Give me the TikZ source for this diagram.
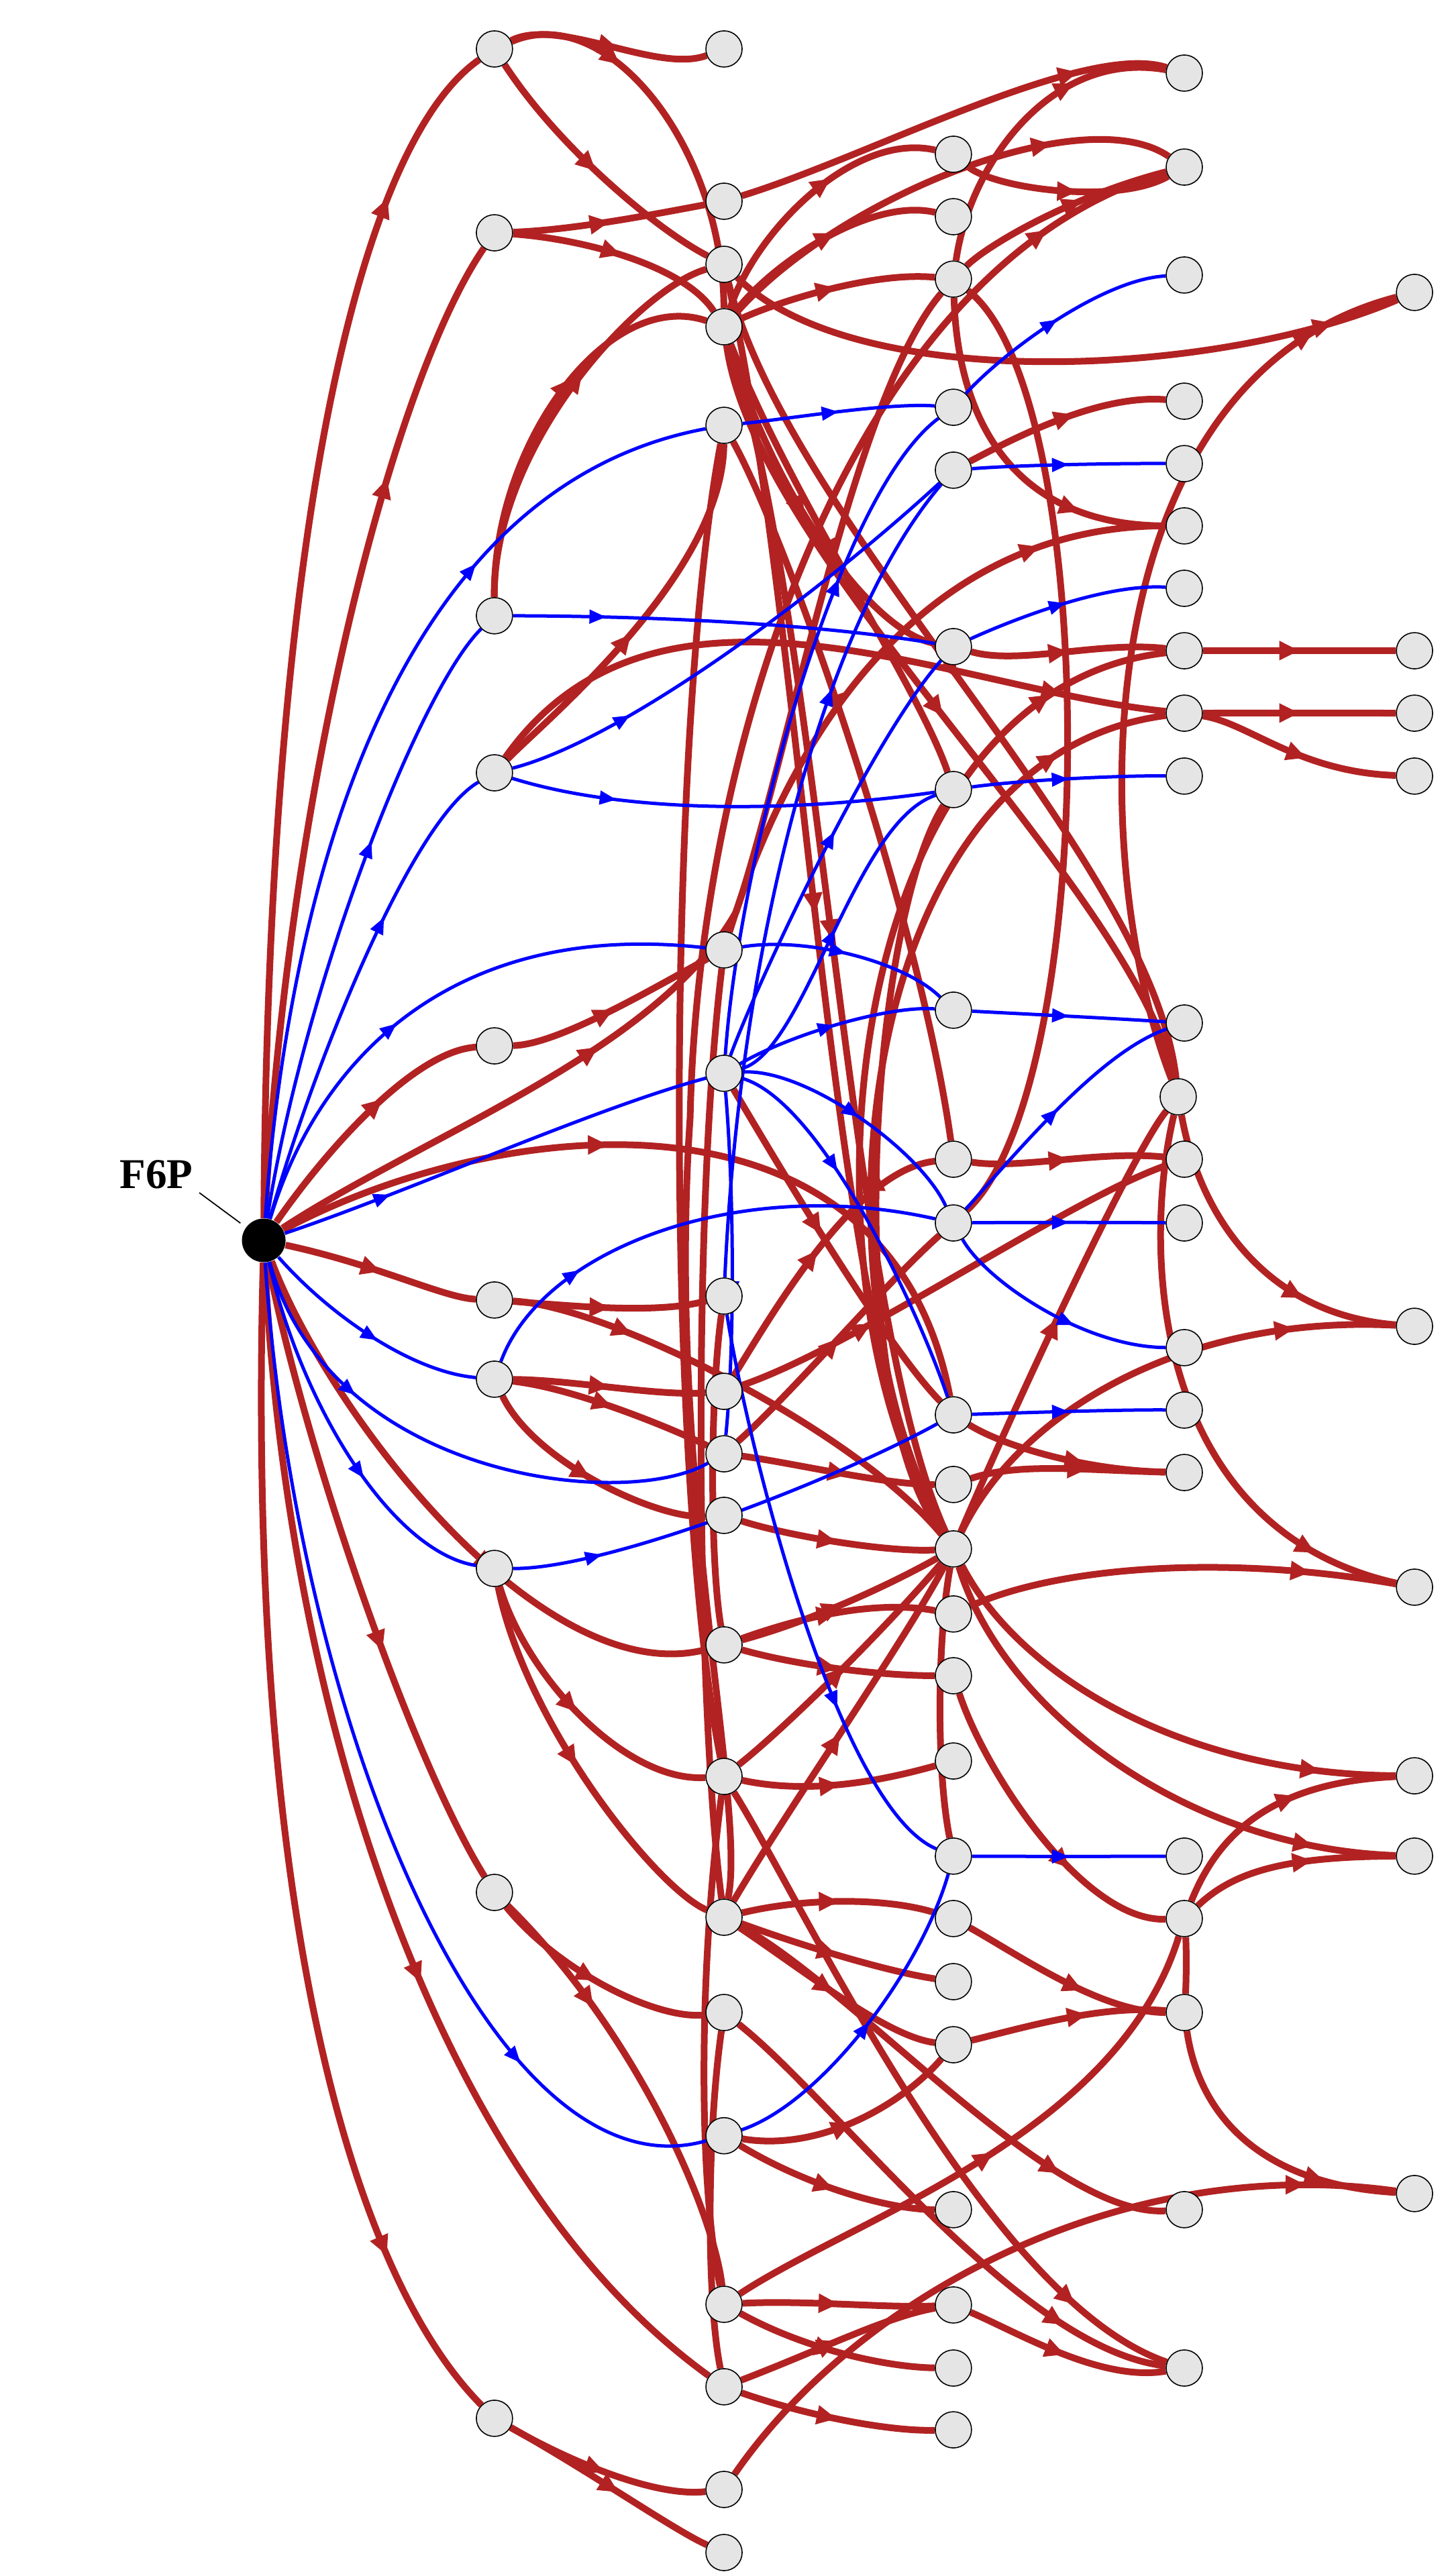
\documentclass[tikz,border=0pt]{standalone}
\usepackage{fontspec}
\setmainfont{Liberation Serif}
\usetikzlibrary{arrows.meta,decorations.markings}
\definecolor{er}{HTML}{B22222}
\definecolor{eb}{HTML}{0000FF}
\definecolor{nf}{HTML}{E5E5E5}
\pgfdeclarelayer{edges}
\pgfsetlayers{edges,main}
\tikzset{
 vtx/.style={circle,draw=black,fill=nf,line width=0.45pt,minimum size=0.54cm,inner sep=0pt},
 srcnode/.style={circle,fill=black,minimum size=0.65cm,inner sep=0pt},
 redge/.style={color=er,line width=0.1cm},
 bedge/.style={color=eb,line width=0.05cm},
 ma/.style={postaction={decorate,decoration={markings,mark=at position #1 with {\arrow{Triangle[length=0.3cm,width=0.27cm]}}}}},
 mab/.style={postaction={decorate,decoration={markings,mark=at position #1 with {\arrow{Triangle[length=0.25cm,width=0.2cm]}}}}},
}
\newcommand{\redE}[5]{\draw[redge,ma=#5] (#1) .. controls (#3) and (#4) .. (#2);}
\newcommand{\redN}[4]{\draw[redge] (#1) .. controls (#3) and (#4) .. (#2);}
\newcommand{\bluE}[5]{\draw[bedge,mab=#5] (#1) .. controls (#3) and (#4) .. (#2);}
\begin{document}
\begin{tikzpicture}[x=0.0244898cm,y=-0.0244898cm]
\useasboundingbox (0,0) rectangle (882,1568);
% nodes
\node[srcnode] (a) at (160.5,755) {};
\foreach \n/\y in {1/29.8,2/141.7,3/374.8,4/470.4,5/636.6,6/791.3,7/839.5,8/954.7,9/1151.9,10/1472}
  \node[vtx] (b\n) at (300.9,\y) {};
\foreach \n/\y in {1/29.8,2/122.5,3/160.9,4/198.9,5/258.9,6/578.2,7/653.3,8/788.9,9/846.9,10/884.9,11/922.4,12/1001.2,13/1081.3,14/1167,15/1225,16/1300,17/1402.6,18/1452.8,19/1515.3,20/1553.7}
  \node[vtx] (c\n) at (440.6,\y) {};
\foreach \n/\y in {1/93.9,2/131.9,3/169.9,4/247.9,5/286.2,6/393.6,7/480.6,8/614.9,9/705.6,10/744.4,11/861.2,12/903.6,13/942.8,14/982.4,15/1020,16/1071.9,17/1129.8,18/1167.8,19/1206.2,20/1244.6,21/1345,22/1403,23/1441.4,24/1479}
  \node[vtx] (d\n) at (580.2,\y) {};
\foreach \n/\y in {1/44.5,2/101.7,3/167.4,4/244.2,5/282.2,6/320.1,7/358.1,8/396.1,9/434.1,10/472.4,11/622.7,13/705.6,14/744.4,15/820.3,16/858.3,17/896.3,18/1129.8,19/1167.8,20/1225,21/1345,22/1441.4}
  \node[vtx] (e\n) at (720.7,\y) {};
\node[vtx] (e12) at (717,667.6) {};
\foreach \n/\y in {1/178,2/396.1,3/434.1,4/472.4,5/807.3,6/966.1,7/1080.9,8/1129.8,9/1335.2}
  \node[vtx] (f\n) at (860.8,\y) {};
\node[font=\bfseries\fontsize{18}{21.6}\selectfont,inner sep=0pt] (lbl) at (95.2,715) {F6P};
\coordinate (lblp) at (121.3,726);
\draw[line width=0.5pt,shorten >=0.1cm] (lblp) -- (a);

\begin{pgfonlayer}{edges}
\fill[white] (0,0) rectangle (882,1568);
% ---------- red edges ----------
\redE{a}{b1}{163,340}{215,90}{0.86}
\redE{a}{b2}{175,480}{240,230}{0.75}
\redE{b1}{c1}{340,10}{400,45}{0.55}
\redE{b1}{c4}{370,0}{440,90}{0.3}
\redE{b1}{c3}{340,90}{400,140}{0.5}
\redE{b2}{c2}{350,140}{400,130}{0.5}
\redE{b2}{c4}{350,145}{415,160}{0.5}
\redE{b3}{c4}{300,270}{370,175}{0.6}
\redE{b3}{c3}{300,270}{390,175}{0.6}
\redE{b4}{c5}{330,440}{440,350}{0.45}
\redE{c4}{d1}{460,140}{520,80}{0.6}
\redE{c4}{d2}{470,160}{530,120}{0.55}
\redE{c4}{d3}{470,185}{530,165}{0.5}
\redE{c2}{e1}{530,95}{660,25}{0.8}
\redE{c3}{f1}{520,240}{740,230}{0.9}
\redE{c4}{e2}{510,120}{660,60}{0.75}
\redE{d1}{e2}{605,115}{680,125}{0.55}
\redE{d3}{e2}{600,150}{650,120}{0.6}
\redE{d3}{e1}{590,100}{640,30}{0.7}
\redE{d3}{e6}{583,260}{620,320}{0.75}
\redN{d3}{d10}{670,240}{670,660}
\redE{c5}{d9}{480,330}{560,560}{0.4}
\redE{d5}{e4}{620,265}{670,240}{0.55}
\redE{b4}{e9}{400,330}{580,420}{0.85}
\redE{c4}{d6}{470,300}{530,385}{0.5}
\redE{c4}{d7}{480,300}{560,420}{0.5}
\redE{c4}{d13}{500,380}{515,800}{0.5}
\redE{c3}{d13}{490,380}{505,830}{0.5}
\redE{c4}{e12}{460,340}{690,540}{0.5}
\redE{c3}{e12}{480,320}{700,520}{0.5}
\redE{e12}{f1}{660,520}{660,230}{0.9}
\redE{e12}{f5}{730,740}{770,800}{0.7}
\redE{d13}{f5}{620,860}{720,800}{0.8}
\redE{d14}{f6}{640,955}{740,945}{0.8}
\redE{e12}{f6}{695,760}{700,930}{0.85}
\redE{d13}{f7}{620,1020}{720,1080}{0.85}
\redE{d13}{f8}{610,1040}{720,1125}{0.85}
\redE{e19}{f7}{740,1120}{770,1085}{0.6}
\redE{e19}{f8}{750,1140}{780,1130}{0.6}
\redE{e8}{f2}{760,396}{820,396}{0.5}
\redE{e9}{f3}{760,434}{820,434}{0.5}
\redE{e9}{f4}{760,440}{790,470}{0.55}
\redE{e20}{f9}{730,1290}{770,1330}{0.75}
\redE{c19}{f9}{520,1400}{680,1310}{0.88}
\redE{d6}{e8}{620,405}{670,390}{0.5}
\redE{d13}{e8}{480,780}{510,420}{0.88}
\redE{d13}{e9}{490,780}{520,460}{0.88}
\redE{d11}{e17}{610,880}{660,895}{0.6}
\redE{d12}{e17}{620,890}{660,895}{0.6}
\redE{c10}{d12}{480,890}{540,904}{0.55}
\redE{c9}{d9}{470,800}{520,712}{0.5}
\redE{c10}{d10}{480,850}{540,780}{0.5}
\redE{a}{d11}{300,680}{540,650}{0.42}
\redE{a}{b5}{195,705}{250,640}{0.6}
\redE{b5}{c6}{340,636}{400,600}{0.5}
\redE{a}{b6}{230,770}{270,790}{0.5}
\redE{b6}{c8}{350,795}{400,800}{0.5}
\redE{b6}{d13}{370,795}{520,870}{0.25}
\redE{b7}{c9}{350,840}{400,850}{0.5}
\redE{b7}{c10}{350,845}{410,870}{0.5}
\redE{b7}{c11}{325,890}{400,925}{0.5}
\redE{c11}{d13}{480,935}{540,945}{0.5}
\redE{a}{c12}{200,860}{330,1030}{0.62}
\redE{c12}{d14}{500,980}{540,975}{0.5}
\redE{c12}{d15}{490,1015}{540,1020}{0.5}
\redE{c12}{d13}{500,985}{550,960}{0.5}
\redE{b8}{c13}{320,1020}{380,1085}{0.5}
\redE{b8}{c14}{320,1050}{400,1150}{0.5}
\redE{c13}{d16}{500,1094}{550,1080}{0.5}
\redE{a}{b9}{185,880}{250,1070}{0.62}
\redE{b9}{c15}{340,1200}{400,1230}{0.5}
\redE{b9}{c17}{390,1240}{435,1350}{0.3}
\redE{a}{c18}{175,1050}{270,1330}{0.6}
\redE{a}{b10}{150,1150}{210,1380}{0.85}
\redE{b10}{c19}{350,1500}{400,1520}{0.5}
\redE{b10}{c20}{360,1505}{410,1540}{0.55}
\redE{c14}{d18}{490,1155}{540,1155}{0.5}
\redE{c14}{d19}{490,1185}{540,1200}{0.5}
\redE{c14}{e21}{520,1210}{640,1350}{0.78}
\redE{c14}{d20}{490,1200}{540,1240}{0.5}
\redE{c16}{d20}{500,1310}{550,1280}{0.5}
\redE{c16}{d21}{490,1330}{540,1345}{0.5}
\redE{d18}{e20}{620,1190}{670,1225}{0.6}
\redE{d20}{e20}{620,1235}{670,1220}{0.6}
\redE{c17}{d22}{490,1400}{540,1405}{0.5}
\redE{c17}{d23}{490,1430}{540,1441}{0.5}
\redE{c18}{d24}{490,1470}{540,1480}{0.5}
\redE{c18}{d22}{500,1430}{540,1410}{0.5}
\redE{d22}{e22}{620,1420}{670,1450}{0.5}
\redE{c15}{e22}{510,1280}{620,1430}{0.8}
\redE{c13}{e22}{490,1160}{600,1400}{0.85}
\redE{c17}{e19}{520,1350}{680,1300}{0.5}
\redE{d15}{e19}{600,1080}{660,1170}{0.65}
\redN{e19}{e20}{722,1185}{722,1205}
\redE{d9}{e13}{620,712}{670,700}{0.5}
\redE{d13}{e12}{620,850}{690,700}{0.5}
\redE{c9}{e13}{520,820}{650,730}{0.3}
\redE{c7}{d11}{480,720}{540,820}{0.45}
\redE{c6}{e6}{480,450}{560,320}{0.8}
\redE{c14}{d13}{480,1100}{550,1000}{0.5}
\redE{c13}{d13}{480,1050}{540,990}{0.5}
\redE{d13}{d7}{510,850}{530,560}{0.5}
\draw[redge,ma=0.93] (c14) .. controls (455,1100) and (405,900) .. (420,680) .. controls (425,450) and (520,160) .. (e2);
\draw[redge,ma=0.3] (a) .. controls (260,690) and (400,640) .. (448,555) .. controls (480,460) and (520,240) .. (d3);
\redN{c5}{c13}{405,450}{405,900}
\redN{c6}{c14}{420,750}{425,1050}
\redN{c8}{c12}{432,850}{432,950}
\redN{c13}{c17}{425,1200}{425,1330}
\redN{c15}{c18}{430,1300}{430,1400}
\redN{d13}{d17}{570,1000}{570,1080}
% ---------- blue edges ----------
\bluE{a}{b3}{185,600}{255,420}{0.62}
\bluE{a}{b4}{190,650}{250,500}{0.66}
\bluE{a}{c5}{172,590}{220,300}{0.72}
\bluE{a}{c6}{195,640}{280,560}{0.42}
\bluE{a}{c7}{250,725}{360,675}{0.25}
\bluE{a}{b7}{200,800}{250,835}{0.55}
\bluE{a}{c10}{200,900}{380,920}{0.3}
\bluE{a}{b8}{185,860}{240,945}{0.62}
\bluE{a}{c16}{180,1050}{300,1340}{0.8}
\bluE{b3}{d6}{400,375}{500,380}{0.22}
\bluE{b4}{d5}{380,450}{500,360}{0.25}
\bluE{b4}{d7}{380,495}{480,495}{0.25}
\bluE{c5}{d4}{480,255}{540,245}{0.5}
\bluE{d4}{e3}{610,215}{670,170}{0.5}
\bluE{d5}{e5}{620,283}{680,282}{0.5}
\bluE{d6}{e7}{610,380}{670,355}{0.5}
\bluE{d7}{e10}{620,475}{680,472}{0.5}
\bluE{c7}{d4}{450,520}{510,300}{0.72}
\bluE{c8}{d5}{450,580}{500,380}{0.72}
\bluE{c7}{d6}{460,600}{530,450}{0.55}
\bluE{c7}{d7}{490,640}{520,500}{0.5}
\bluE{c6}{d8}{490,570}{550,585}{0.5}
\bluE{c7}{d8}{480,630}{540,612}{0.5}
\bluE{c7}{d10}{490,650}{560,700}{0.5}
\bluE{c7}{d11}{500,670}{560,800}{0.35}
\bluE{c7}{c10}{447,730}{447,820}{0.6}
\bluE{c8}{d17}{455,880}{510,1100}{0.7}
\bluE{b8}{d11}{370,955}{510,900}{0.2}
\bluE{d10}{e14}{620,744}{680,744}{0.5}
\bluE{d10}{e15}{600,780}{660,820}{0.6}
\bluE{d11}{e16}{620,860}{680,858}{0.5}
\bluE{d10}{e11}{620,700}{670,640}{0.5}
\bluE{d8}{e11}{620,617}{680,620}{0.5}
\bluE{b7}{d10}{330,760}{450,715}{0.25}
\bluE{d17}{e18}{620,1130}{680,1130}{0.5}
\bluE{c16}{d17}{500,1280}{560,1200}{0.5}
\end{pgfonlayer}
\end{tikzpicture}
\end{document}
